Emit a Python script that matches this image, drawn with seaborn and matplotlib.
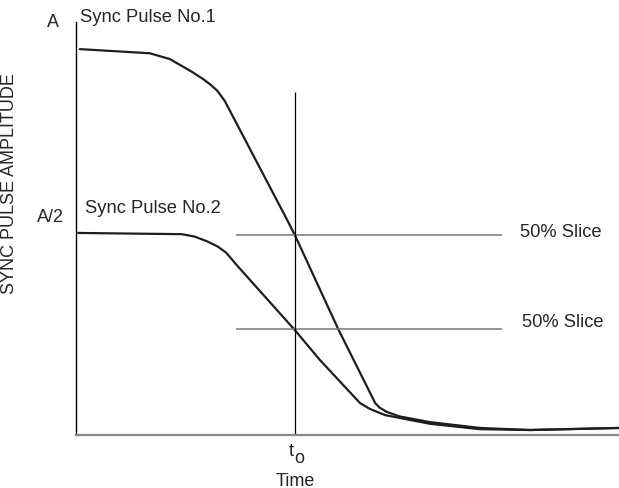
import numpy as np
import pandas as pd
import matplotlib
matplotlib.use("Agg")
import matplotlib.pyplot as plt
import matplotlib.transforms as mtransforms
import seaborn as sns

# time axis runs 0..100, amplitude 0..1 (A = 1)
pulse1_t = [0.7, 13.6, 17.3, 21.5, 23.5, 24.7, 26.0, 27.4, 38.9, 40.3, 48.3, 55.1, 55.9, 57.2, 59.5, 65.2, 74.4, 83.6, 100]
pulse1_amp = [0.930, 0.920, 0.906, 0.874, 0.857, 0.845, 0.830, 0.805, 0.518, 0.482, 0.255, 0.077, 0.066, 0.056, 0.045, 0.031, 0.017, 0.012, 0.017]

pulse2_t = [0.4, 19.5, 21.9, 24.1, 26.0, 27.6, 28.6, 29.7, 40.3, 44.9, 52.3, 54.1, 56.9, 65.2, 74.4, 83.6, 100]
pulse2_amp = [0.487, 0.484, 0.478, 0.467, 0.455, 0.440, 0.425, 0.408, 0.253, 0.181, 0.077, 0.063, 0.048, 0.027, 0.014, 0.012, 0.017]

slice_levels = [0.482, 0.255]
slice_start, slice_end = 29.5, 78.5
t_o = 40.3
t_o_top = 0.827

ytick_vals = [1.0, 0.53]
ytick_labels = ["A", "A/2"]

df1 = pd.DataFrame({"t": pulse1_t, "amp": pulse1_amp})
df2 = pd.DataFrame({"t": pulse2_t, "amp": pulse2_amp})

sns.set_theme(style="white")
plt.rcParams['font.family'] = ['Liberation Sans', 'DejaVu Sans']

fig = plt.figure(figsize=(6.19, 4.88), dpi=100)
ax = fig.add_axes([76/619, 53/488, 543/619, 417/488])

sns.lineplot(data=df1, x="t", y="amp", ax=ax, color="#1e1e1e", lw=1.6, sort=False)
sns.lineplot(data=df2, x="t", y="amp", ax=ax, color="#1e1e1e", lw=1.6, sort=False)

ax.hlines(slice_levels, slice_start, slice_end, color="#777777", lw=1.1)
ax.vlines(t_o, 0, t_o_top, color="black", lw=0.9)

ax.set_xlim(0, 100)
ax.set_ylim(0, 1.005)

for s in ["top", "right"]:
    ax.spines[s].set_visible(False)
ax.spines["left"].set_color("black")
ax.spines["left"].set_linewidth(1.0)
ax.spines["left"].set_bounds(0, 0.995)
ax.spines["bottom"].set_color("#888888")
ax.spines["bottom"].set_linewidth(1.6)

ax.set_yticks(ytick_vals)
ax.set_yticklabels(ytick_labels, fontsize=13)
ax.tick_params(axis="y", length=0, pad=12)
# A/2 sits a bit closer to the axis than A
lab = ax.get_yticklabels()[1]
lab.set_transform(lab.get_transform() + mtransforms.ScaledTranslation(5/100, 0, fig.dpi_scale_trans))

ax.set_xticks([])
ax.annotate("t", xy=(t_o, 0), xycoords=("data", "axes fraction"), xytext=(-2.5, -6),
            textcoords="offset points", ha="center", va="top", fontsize=13)
ax.annotate("o", xy=(t_o, 0), xycoords=("data", "axes fraction"), xytext=(3.5, -11),
            textcoords="offset points", ha="center", va="top", fontsize=13)

ax.set_xlabel("Time", fontsize=13)
ax.xaxis.set_label_coords((t_o - 0) / 100, -0.09)
ax.set_ylabel("SYNC PULSE AMPLITUDE", fontsize=13)
ax.yaxis.set_label_coords(-0.107, 0.604)

ax.text(0.74, 1.007, "Sync Pulse No.1", fontsize=13.2, va="center", ha="left", clip_on=False)
ax.text(1.66, 0.545, "Sync Pulse No.2", fontsize=13.2, va="center", ha="left")
ax.text(81.8, 0.487, "50% Slice", fontsize=13.2, va="center", ha="left")
ax.text(82.1, 0.272, "50% Slice", fontsize=13.2, va="center", ha="left")

fig.savefig("out.png", dpi=100)
